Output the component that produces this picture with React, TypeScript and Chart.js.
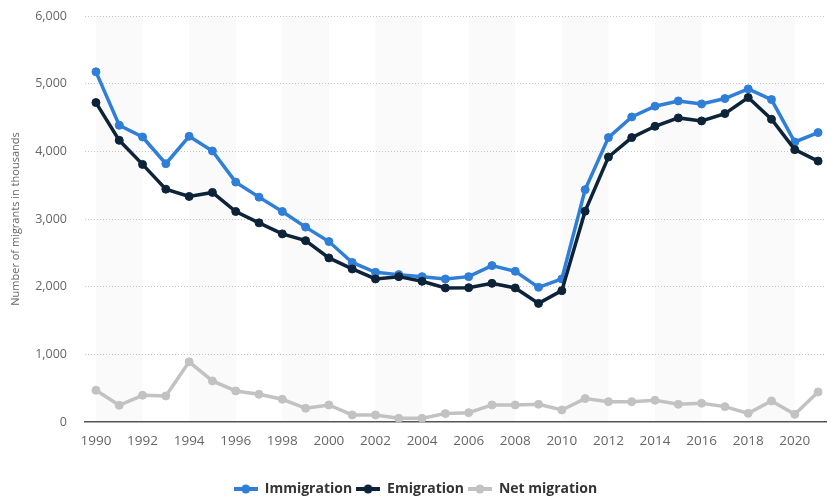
import React, { useEffect, useRef } from "react";
import { Chart, registerables } from "chart.js";

Chart.register(...registerables);

const years = [
  1990, 1991, 1992, 1993, 1994, 1995, 1996, 1997, 1998, 1999, 2000, 2001, 2002, 2003, 2004, 2005,
  2006, 2007, 2008, 2009, 2010, 2011, 2012, 2013, 2014, 2015, 2016, 2017, 2018, 2019, 2020, 2021,
];
const immigration = [
  5175, 4385, 4212, 3817, 4222, 4005, 3545, 3323, 3111, 2880, 2667, 2358, 2212, 2178, 2148, 2114,
  2148, 2311, 2227, 1990, 2114, 3434, 4203, 4508, 4667, 4745, 4700, 4780, 4923, 4765, 4138, 4277,
];
const emigration = [
  4721, 4163, 3807, 3441, 3333, 3393, 3111, 2943, 2780, 2680, 2425, 2262, 2114, 2148, 2079, 1981,
  1985, 2049, 1981, 1753, 1941, 3116, 3916, 4203, 4370, 4494, 4449, 4558, 4795, 4474, 4025, 3856,
];
const netMigration = [
  469, 247, 395, 385, 889, 607, 459, 410, 336, 203, 252, 104, 104, 54, 54, 124,
  138, 252, 252, 262, 178, 346, 301, 301, 321, 262, 277, 227, 128, 311, 114, 444,
];
const yTicks = [0, 1000, 2000, 3000, 4000, 5000, 6000];
const seriesNames = ["Immigration", "Emigration", "Net migration"];
const seriesColors = ["#2f7ed8", "#0d233a", "#c2c2c2"];

function legendMarker(color: string) {
  const c = document.createElement("canvas");
  c.width = 24;
  c.height = 10;
  const ctx = c.getContext("2d")!;
  ctx.strokeStyle = color;
  ctx.lineWidth = 4;
  ctx.beginPath();
  ctx.moveTo(0, 5);
  ctx.lineTo(24, 5);
  ctx.stroke();
  ctx.fillStyle = color;
  ctx.beginPath();
  ctx.arc(12, 5, 4.5, 0, Math.PI * 2);
  ctx.fill();
  return c;
}

const bandPlugin = {
  id: "bands",
  beforeDraw(chart: any) {
    const { ctx, chartArea, scales } = chart;
    const x = scales.x;
    ctx.save();
    ctx.fillStyle = "#fafafa";
    for (let yr = 1990; yr <= 2021; yr += 4) {
      const x0 = x.getPixelForValue(yr);
      const x1 = Math.min(x.getPixelForValue(yr + 2), chartArea.right);
      ctx.fillRect(x0, chartArea.top, x1 - x0, chartArea.bottom - chartArea.top);
    }
    ctx.restore();
  },
};

export default function App() {
  const ref = useRef<HTMLCanvasElement>(null);
  useEffect(() => {
    document.body.style.margin = "0";
    const data = [immigration, emigration, netMigration];
    const chart = new Chart(ref.current!, {
      type: "line",
      data: {
        datasets: data.map((arr, i) => ({
          label: seriesNames[i],
          data: arr.map((v, j) => ({ x: years[j], y: v })),
          borderColor: seriesColors[i],
          backgroundColor: seriesColors[i],
          pointBackgroundColor: seriesColors[i],
          pointBorderColor: seriesColors[i],
          borderWidth: 3.5,
          pointRadius: 4,
          pointBorderWidth: 1,
          tension: 0,
          order: 3 - i,
          pointStyle: "circle",
        })),
      },
      options: {
        animation: false,
        responsive: false,
        layout: { padding: { top: 16, right: 0, left: 0, bottom: 0 } },
        plugins: {
          tooltip: { enabled: false },
          legend: {
            position: "bottom",
            labels: {
              usePointStyle: true,
              pointStyleWidth: 24,
              padding: 4,
              color: "#333333",
              font: { family: "'Open Sans', sans-serif", size: 14, weight: "bold" },
              generateLabels: () =>
                seriesNames.map((n, i) => ({
                  text: n,
                  datasetIndex: i,
                  pointStyle: legendMarker(seriesColors[i]),
                  fillStyle: seriesColors[i],
                  strokeStyle: seriesColors[i],
                  lineWidth: 0,
                  fontColor: "#333333",
                  hidden: false,
                })),
            },
          },
        },
        scales: {
          x: {
            type: "linear",
            min: 1989.53,
            max: 2021.34,
            grid: { display: false, drawTicks: false },
            border: { display: true, color: "#555555", width: 1.5 },
            ticks: {
              stepSize: 2,
              includeBounds: false,
              padding: 11,
              color: "#666666",
              font: { family: "'Open Sans', sans-serif", size: 13.5 },
              maxRotation: 0,
              autoSkip: false,
              callback: (v: any) => String(v),
            },
            afterFit: (s: any) => {
              s.height = 56;
            },
          },
          y: {
            min: 0,
            max: 6000,
            afterBuildTicks: (s: any) => {
              s.ticks = yTicks.map((v) => ({ value: v }));
            },
            grid: {
              drawTicks: true,
              tickLength: 18,
              tickColor: "rgba(0,0,0,0)",
              color: (c: any) => (c.tick && c.tick.value === 0 ? "rgba(0,0,0,0)" : "#c4c4c4"),
              lineWidth: 1,
            },
            border: { display: false, dash: [1, 2] },
            ticks: {
              padding: 0,
              color: "#666666",
              font: { family: "'Open Sans', sans-serif", size: 12.5 },
              callback: (v: any) => Number(v).toLocaleString("en-US"),
            },
            title: {
              display: true,
              text: "Number of migrants in thousands",
              color: "#666666",
              font: { family: "'Open Sans', sans-serif", size: 11 },
              padding: { top: 9, bottom: 0 },
            },
            afterFit: (s: any) => {
              s.width = 85;
            },
          },
        },
      },
      plugins: [bandPlugin],
    });
    return () => chart.destroy();
  }, []);
  return (
    <div style={{ width: 831, height: 501, overflow: "hidden" }}>
      <canvas ref={ref} width={831} height={506} style={{ width: 831, height: 506, display: "block" }} />
    </div>
  );
}
